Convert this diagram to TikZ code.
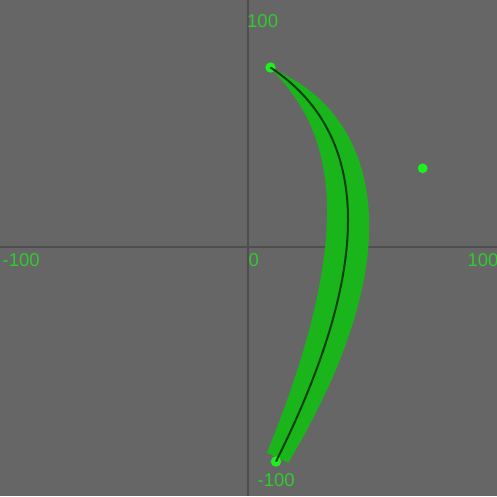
\documentclass[tikz,border=0pt]{standalone}
\usepackage{fontspec}
\setmainfont{Liberation Sans}
\usetikzlibrary{calc}
\definecolor{bg}{HTML}{666666}
\definecolor{axisgray}{HTML}{4E4E4E}
\definecolor{labelgreen}{HTML}{2ECC2E}
\definecolor{bandgreen}{HTML}{1AB51A}
\definecolor{dotgreen}{HTML}{1EF01E}
\definecolor{curvedark}{HTML}{0C3F0C}
\tikzset{
  declare function={
    bx(\t)=(1-\t)^2*270+2*\t*(1-\t)*423+\t^2*276;
    by(\t)=(1-\t)^2*68+2*\t*(1-\t)*168+\t^2*461;
    ddx(\t)=0.02*((1-\t)*153-\t*147);
    ddy(\t)=0.02*((1-\t)*100+\t*293);
    hw(\t)=(145*\t-122*\t^2)/2;
    nl(\t)=veclen(ddx(\t),ddy(\t));
  },
  axisline/.style={draw=axisgray, line width=1.5pt},
  axislabel/.style={text=labelgreen, font=\fontsize{18.5pt}{20pt}\selectfont, inner sep=0pt, anchor=base west},
  ptdot/.style={fill=dotgreen, draw=none},
  mcurve/.style={draw=curvedark, line width=2pt},
}
\begin{document}
\begin{tikzpicture}[x=1pt,y=-1pt]
  \fill[bg] (0,0) rectangle (497,496);
  \useasboundingbox (0,0) rectangle (497,496);
  % axes
  \coordinate (xl) at (0,247);
  \coordinate (xr) at (497,247);
  \coordinate (yt) at (248,0);
  \coordinate (yb) at (248,496);
  \draw[axisline] (xl) -- (xr);
  \draw[axisline] (yt) -- (yb);
  % labels
  \node[axislabel] (ltop) at (247,27) {100};
  \node[axislabel] (lleft) at (2.5,266) {-100};
  \node[axislabel] (lzero) at (248.3,266.5) {0};
  \node[axislabel] (lright) at (467.3,266) {100};
  \node[axislabel] (lbot) at (257.5,486) {-100};
  % band
  \fill[bandgreen]
    plot[variable=\t, domain=0:0.995, samples=90]
      ({bx(\t)+hw(\t)*ddy(\t)/nl(\t)}, {by(\t)-hw(\t)*ddx(\t)/nl(\t)})
    -- plot[variable=\t, domain=0.995:0, samples=90]
      ({bx(\t)-hw(\t)*ddy(\t)/nl(\t)}, {by(\t)+hw(\t)*ddx(\t)/nl(\t)})
    -- cycle;
  % points
  \coordinate (p0) at (270.5,67.5);
  \coordinate (pc) at (422.7,168.3);
  \coordinate (p2) at (276,461.5);
  \fill[ptdot] (p0) circle[radius=5.2];
  \fill[ptdot] (pc) circle[radius=4.9];
  \fill[ptdot] (p2) circle[radius=5.2];
  % curve (quadratic as cubic)
  \draw[mcurve] (p0) .. controls ($(p0)!2/3!(pc)$) and ($(p2)!2/3!(pc)$) .. (p2);
\end{tikzpicture}
\end{document}
